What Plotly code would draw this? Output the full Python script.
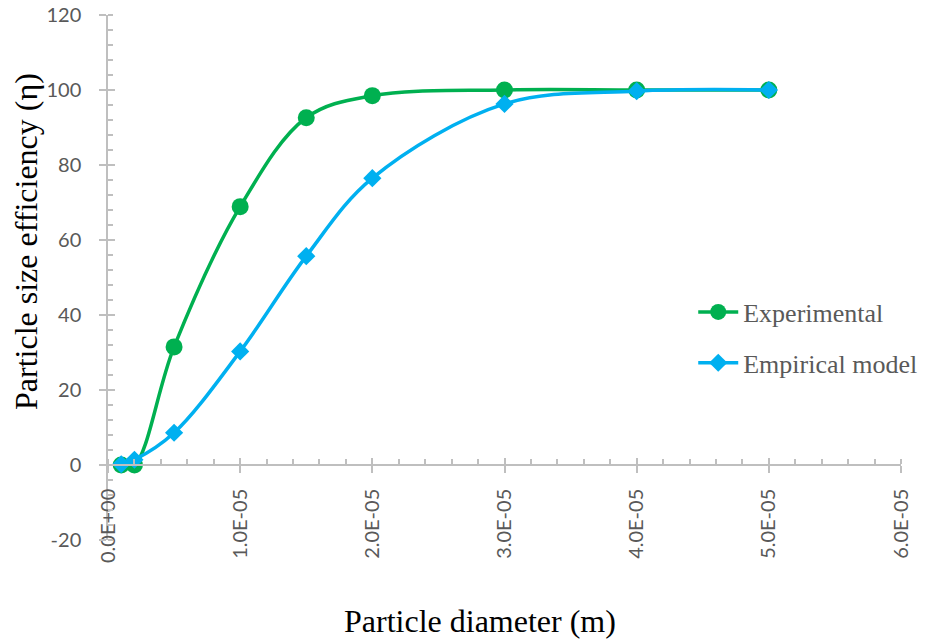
import plotly.graph_objects as go

# ---- data ----
diameter = [1e-6, 2e-6, 5e-6, 1e-5, 1.5e-5, 2e-5, 3e-5, 4e-5, 5e-5]
experimental = [0.0, 0.0, 31.5, 68.9, 92.6, 98.5, 100.0, 100.0, 100.0]
empirical = [0.2, 1.4, 8.6, 30.3, 55.7, 76.5, 96.3, 99.7, 100.0]
x_tickvals = [0, 1e-5, 2e-5, 3e-5, 4e-5, 5e-5, 6e-5]
x_ticktext = ["0.0E+00", "1.0E-05", "2.0E-05", "3.0E-05", "4.0E-05", "5.0E-05", "6.0E-05"]
y_tickvals = [-20, 0, 20, 40, 60, 80, 100, 120]
y_ticktext = ["-20", "0", "20", "40", "60", "80", "100", "120"]

GREEN = "#00B050"
BLUE = "#00B0F0"
AXIS = "#BFBFBF"
TXT = "#595959"
TICKFONT = dict(family="Lato", size=20, color=TXT)

fig = go.Figure()
fig.add_trace(go.Scatter(
    x=diameter, y=experimental, name="Experimental", mode="lines+markers",
    legendgroup="a",
    line=dict(color=GREEN, width=3.5, shape="spline", smoothing=1.0),
    marker=dict(symbol="circle", size=17, color=GREEN),
))
fig.add_trace(go.Scatter(
    x=diameter, y=empirical, name="Empirical model", mode="lines+markers",
    legendgroup="b",
    line=dict(color=BLUE, width=3.5, shape="spline", smoothing=1.0),
    marker=dict(symbol="diamond", size=14, color=BLUE),
))
# empty helper traces to attach the overlay tick axes
fig.add_trace(go.Scatter(x=[], y=[], xaxis="x2", yaxis="y", showlegend=False, hoverinfo="skip"))
fig.add_trace(go.Scatter(x=[], y=[], xaxis="x", yaxis="y2", showlegend=False, hoverinfo="skip"))

zero_pos = (0 - (-20)) / (120 - (-20))

fig.update_layout(
    width=925, height=643,
    paper_bgcolor="white", plot_bgcolor="white",
    margin=dict(l=108, r=24, t=15, b=103, autoexpand=False),
    showlegend=True,
    legend=dict(
        x=0.738, y=0.479, xanchor="left", yanchor="top",
        font=dict(family="Liberation Serif", size=26, color=TXT),
        bgcolor="rgba(0,0,0,0)", itemwidth=40, tracegroupgap=14,
    ),
    xaxis=dict(
        range=[0, 6e-5], domain=[0, 1], anchor="free", position=zero_pos,
        showgrid=False, zeroline=False,
        showline=True, linecolor=AXIS, linewidth=1.5,
        tickmode="array", tickvals=x_tickvals, ticktext=x_ticktext,
        tickangle=-90, tickfont=TICKFONT,
        ticks="outside", ticklen=7, tickwidth=1.5, tickcolor=AXIS,
        ticklabelstandoff=8,
        minor=dict(ticks="inside", ticklen=5, tickwidth=1.5, tickcolor=AXIS, dtick=2e-6, showgrid=False),
    ),
    xaxis2=dict(
        range=[0, 6e-5], overlaying="x", anchor="free", position=zero_pos,
        showgrid=False, zeroline=False, showline=False, showticklabels=False,
        tickmode="array", tickvals=x_tickvals,
        ticks="inside", ticklen=7, tickwidth=1.5, tickcolor=AXIS,
    ),
    yaxis=dict(
        range=[-20, 120], domain=[0, 1], anchor="x",
        showgrid=False, zeroline=False,
        showline=True, linecolor=AXIS, linewidth=1.5,
        tickmode="array", tickvals=y_tickvals, ticktext=y_ticktext, tickfont=TICKFONT,
        ticks="outside", ticklen=7, tickwidth=1.5, tickcolor=AXIS,
        ticklabelstandoff=14,
        minor=dict(ticks="inside", ticklen=5, tickwidth=1.5, tickcolor=AXIS, dtick=4, showgrid=False),
    ),
    yaxis2=dict(
        range=[-20, 120], overlaying="y", anchor="x", side="left",
        showgrid=False, zeroline=False, showline=False, showticklabels=False,
        tickmode="array", tickvals=y_tickvals,
        ticks="inside", ticklen=7, tickwidth=1.5, tickcolor=AXIS,
    ),
    annotations=[
        dict(text="Particle size efficiency (η)", xref="paper", yref="paper",
             x=(26 - 108) / 793, y=(540 - 242) / 525, textangle=-90,
             showarrow=False, xanchor="center", yanchor="middle",
             font=dict(family="Liberation Serif", size=32, color="black")),
        dict(text="Particle diameter (m)", xref="paper", yref="paper",
             x=(480 - 108) / 793, y=(540 - 621) / 525,
             showarrow=False, xanchor="center", yanchor="middle",
             font=dict(family="Liberation Serif", size=32, color="black")),
    ],
)

fig.write_html(
    "out.html",
    config={"displayModeBar": False},
    post_script="document.body.style.margin='0';document.body.style.padding='0';",
)
